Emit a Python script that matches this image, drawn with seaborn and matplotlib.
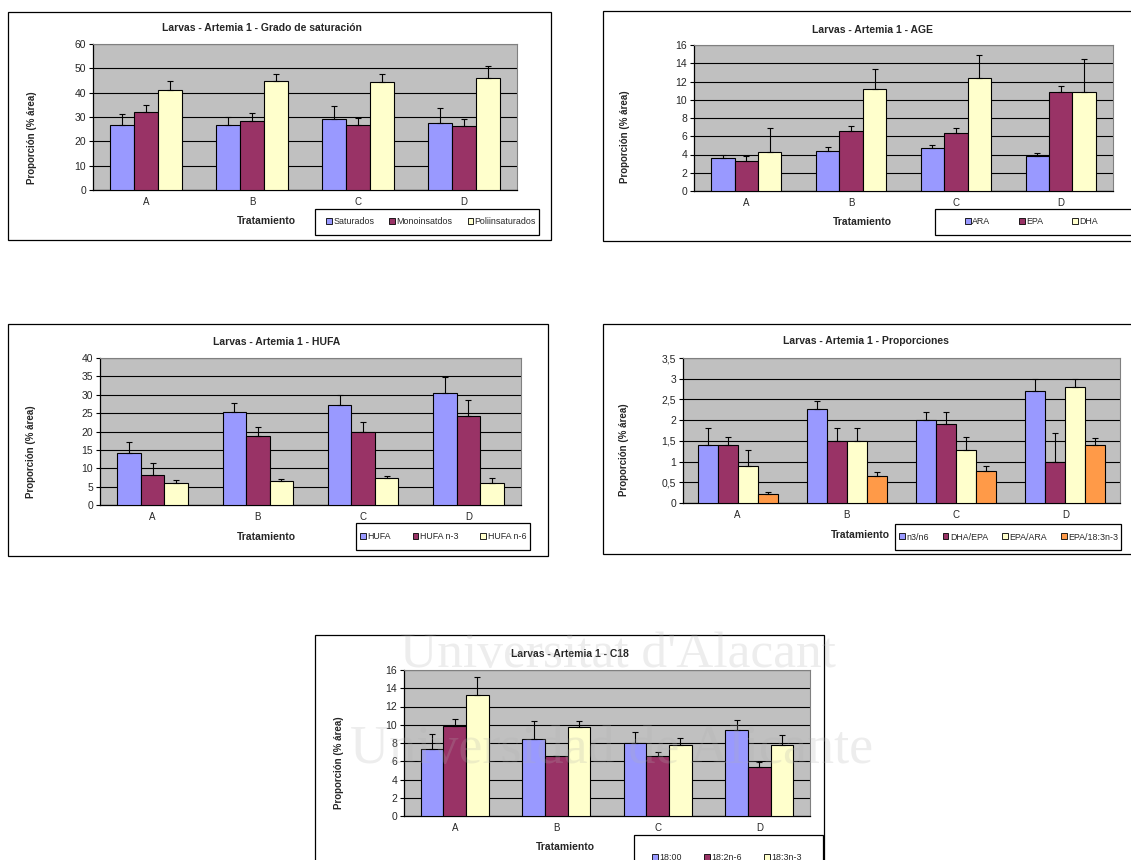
import numpy as np
import pandas as pd
import matplotlib
matplotlib.use("Agg")
import matplotlib.pyplot as plt
import seaborn as sns
from matplotlib.patches import Rectangle, Patch
from matplotlib.ticker import FuncFormatter

sns.set_style("white")
plt.rcParams["font.family"] = ["Liberation Sans", "DejaVu Sans"]

# ---------------- data ----------------
categories = ["A", "B", "C", "D"]

sat_series = ["Saturados", "Monoinsatdos", "Poliinsaturados"]
sat_values = [[26.8, 26.8, 29.1, 27.7],
              [32.0, 28.4, 26.8, 26.5],
              [41.3, 44.9, 44.2, 46.1]]
sat_errors = [[4.4, 3.1, 5.4, 5.8],
              [2.9, 3.2, 2.7, 2.6],
              [3.5, 2.7, 3.4, 4.7]]

age_series = ["ARA", "EPA", "DHA"]
age_values = [[3.6, 4.4, 4.7, 3.85],
              [3.25, 6.6, 6.35, 10.8],
              [4.3, 11.2, 12.4, 10.9]]
age_errors = [[0.35, 0.45, 0.3, 0.3],
              [0.6, 0.55, 0.6, 0.75],
              [2.65, 2.2, 2.5, 3.6]]

hufa_series = ["HUFA", "HUFA n-3", "HUFA n-6"]
hufa_values = [[14.2, 25.2, 27.2, 30.4],
               [8.1, 18.7, 19.9, 24.2],
               [6.1, 6.4, 7.3, 6.1]]
hufa_errors = [[2.9, 2.6, 2.8, 4.4],
               [3.3, 2.6, 2.7, 4.4],
               [0.8, 0.7, 0.7, 1.2]]

prop_series = ["n3/n6", "DHA/EPA", "EPA/ARA", "EPA/18:3n-3"]
prop_values = [[1.41, 2.27, 2.0, 2.7],
               [1.41, 1.5, 1.9, 1.0],
               [0.9, 1.5, 1.29, 2.8],
               [0.22, 0.66, 0.78, 1.41]]
prop_errors = [[0.4, 0.2, 0.2, 0.3],
               [0.19, 0.31, 0.3, 0.7],
               [0.39, 0.31, 0.31, 0.2],
               [0.05, 0.1, 0.11, 0.15]]

c18_series = ["18:00", "18:2n-6", "18:3n-3"]
c18_values = [[7.35, 8.4, 8.05, 9.45],
              [9.9, 6.55, 6.55, 5.42],
              [13.3, 9.8, 7.73, 7.8]]
c18_errors = [[1.6, 2.0, 1.2, 1.05],
              [0.7, 0.08, 0.5, 0.48],
              [1.9, 0.66, 0.77, 1.05]]

titles = ["Larvas - Artemia 1 - Grado de saturación",
          "Larvas - Artemia 1 - AGE",
          "Larvas - Artemia 1 - HUFA",
          "Larvas - Artemia 1 - Proporciones",
          "Larvas - Artemia 1 - C18"]

watermark = ["Universitat d'Alacant", "Universidad de Alicante"]

colors3 = ["#9999FF", "#993366", "#FFFFCC"]
colors4 = ["#9999FF", "#993366", "#FFFFCC", "#FF9A48"]

W, H = 1131, 860
fig = plt.figure(figsize=(W / 100, H / 100), dpi=100)
fig.patch.set_facecolor("white")


def fbox(x0, y0, x1, y1):
    return [x0 / W, 1 - y1 / H, (x1 - x0) / W, (y1 - y0) / H]


def rect(x0, y0, x1, y1, z=0, lw=0.9):
    b = fbox(x0, y0, x1, y1)
    fig.add_artist(Rectangle((b[0], b[1]), b[2], b[3], transform=fig.transFigure,
                             facecolor="white", edgecolor="black", lw=lw, zorder=z))


def comma_fmt(v, _):
    return ("%g" % v).replace(".", ",")


def chart(frame, plot, title, title_xy, ylab_xy, xlab_xy, leg_box, leg_span,
          series, values, errors, colors, ymax, ystep, width=0.67, comma=False):
    rect(*frame, z=0)
    ax = fig.add_axes(fbox(*plot))
    rows = []
    for s, vals in zip(series, values):
        for c, v in zip(categories, vals):
            rows.append({"cat": c, "series": s, "value": v})
    df = pd.DataFrame(rows)
    sns.barplot(data=df, x="cat", y="value", hue="series", order=categories,
                hue_order=series, palette=colors, width=width, errorbar=None,
                edgecolor="black", linewidth=0.8, legend=False, saturation=1,
                ax=ax, zorder=3)
    for cont, errs in zip(ax.containers, errors):
        xs = [p.get_x() + p.get_width() / 2 for p in cont]
        ys = [p.get_height() for p in cont]
        ax.errorbar(xs, ys, yerr=[np.zeros(len(errs)), errs], fmt="none",
                    ecolor="black", elinewidth=0.8, capsize=2.5, capthick=0.8,
                    zorder=4)
    ax.set_facecolor("#C0C0C0")
    ax.set_xlim(-0.5, len(categories) - 0.5)
    ax.set_ylim(0, ymax)
    ax.set_yticks(np.arange(0, ymax + ystep / 2, ystep))
    if comma:
        ax.yaxis.set_major_formatter(FuncFormatter(comma_fmt))
    ax.set_axisbelow(True)
    ax.yaxis.grid(True, color="black", lw=0.8)
    ax.xaxis.grid(False)
    ax.set_xticks(np.arange(-0.5, len(categories)), minor=True)
    ax.tick_params(axis="x", which="major", length=0, labelsize=7, pad=5)
    ax.tick_params(axis="x", which="minor", length=3, width=0.8, direction="out",
                   color="black")
    ax.tick_params(axis="y", length=3, width=0.8, direction="out", labelsize=7.5,
                   pad=2, color="black", left=True)
    ax.set_xlabel("")
    ax.set_ylabel("")
    for sp in ["left", "bottom"]:
        ax.spines[sp].set_color("black")
        ax.spines[sp].set_linewidth(0.9)
    for sp in ["top", "right"]:
        ax.spines[sp].set_color("#808080")
        ax.spines[sp].set_linewidth(0.8)
    fig.text(title_xy[0] / W, 1 - title_xy[1] / H, title, ha="center", va="center",
             fontsize=7.5, fontweight="bold")
    fig.text(ylab_xy[0] / W, 1 - ylab_xy[1] / H, "Proporción (% área)", rotation=90,
             ha="center", va="center", fontsize=7, fontweight="bold")
    fig.text(xlab_xy[0] / W, 1 - xlab_xy[1] / H, "Tratamiento", ha="center",
             va="center", fontsize=7.5, fontweight="bold")
    rect(*leg_box, z=2, lw=0.9)
    handles = [Patch(facecolor=c, edgecolor="black", lw=0.6) for c in colors]
    lb = fbox(leg_span[0], leg_box[1], leg_span[1], leg_box[3])
    leg = fig.legend(handles, series, loc="center", bbox_to_anchor=lb,
                     bbox_transform=fig.transFigure, mode="expand",
                     ncol=len(series), frameon=False, fontsize=6.4,
                     handlelength=0.65, handleheight=0.65, handletextpad=0.15,
                     borderaxespad=0, borderpad=0, columnspacing=0.5)
    leg.set_zorder(5)
    return ax


chart((8, 12, 551, 240), (93, 44, 517, 190), titles[0], (262, 28), (32, 138),
      (266, 221), (315, 209, 539, 235), (326, 536),
      sat_series, sat_values, sat_errors, colors3, 60, 10)

chart((603, 11, 1150, 241), (694, 45, 1113, 191), titles[1], (872, 30), (625, 137),
      (862, 222), (935, 209, 1150, 235), (965, 1098),
      age_series, age_values, age_errors, colors3, 16, 2)

chart((8, 324, 548, 556), (100, 358, 521, 505), titles[2], (277, 342), (31, 452),
      (266, 537), (356, 523, 530, 550), (360, 526),
      hufa_series, hufa_values, hufa_errors, colors3, 40, 5)

chart((603, 324, 1150, 554), (683, 358, 1120, 503), titles[3], (866, 341), (624, 450),
      (860, 535), (895, 524, 1121, 550), (899, 1118),
      prop_series, prop_values, prop_errors, colors4, 3.5, 0.5, width=0.73, comma=True)

chart((315, 635, 824, 880), (404, 670, 810, 816), titles[4], (570, 654), (339, 763),
      (565, 847), (634, 835, 823, 880), (652, 802),
      c18_series, c18_values, c18_errors, colors3, 16, 2)

# watermark
fig.text(618 / W, 1 - 655 / H, watermark[0], ha="center", va="center",
         fontsize=37, family=["Liberation Serif", "DejaVu Serif"], color="#b0b0b0",
         alpha=0.22, zorder=100)
fig.text(612 / W, 1 - 750 / H, watermark[1], ha="center", va="center",
         fontsize=39, family=["Liberation Serif", "DejaVu Serif"], color="#b0b0b0",
         alpha=0.22, zorder=100)

fig.savefig("out.png", dpi=100, facecolor="white")
